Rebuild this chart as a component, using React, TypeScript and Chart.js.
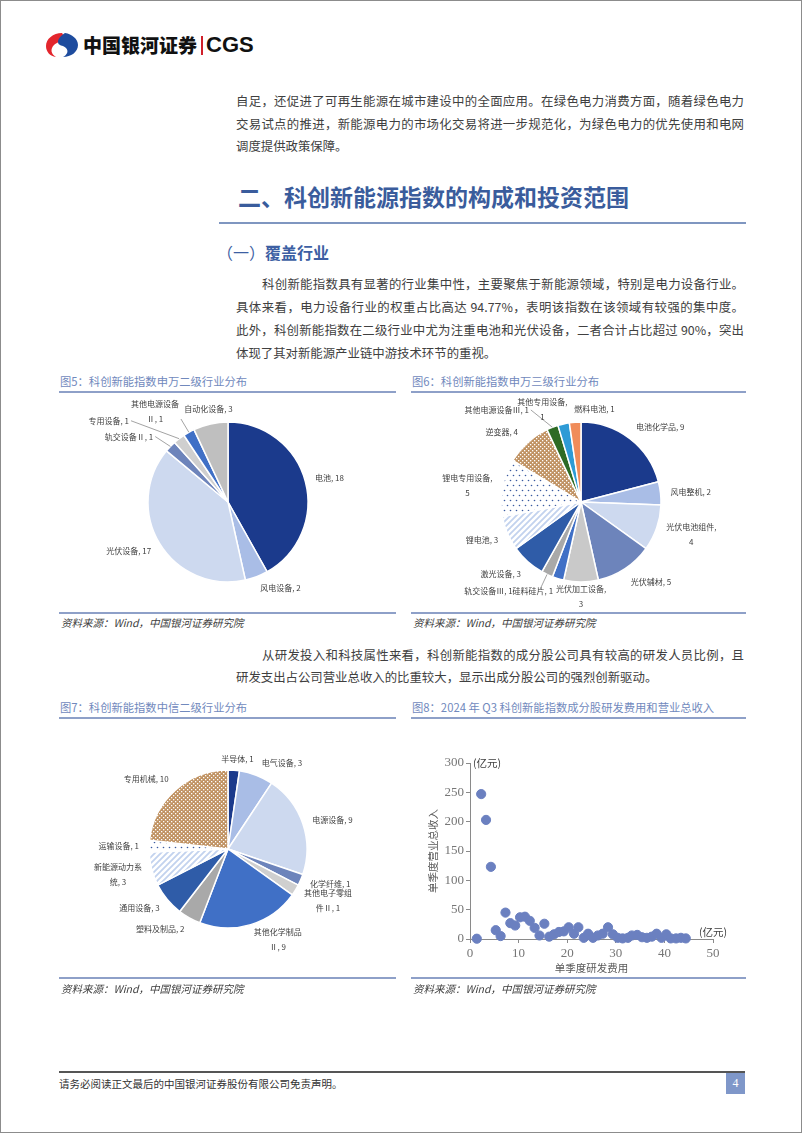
import React, { useEffect, useRef } from 'react';
import { Chart, registerables } from 'chart.js';

Chart.register(...registerables);

const CJK = '"Noto Sans CJK SC", "Noto Sans", sans-serif';
const SERIF = '"Liberation Serif", "DejaVu Serif", serif';
Chart.defaults.font.family = CJK;

// ---------------- DATA ----------------
const sw2Categories = ['电池', '风电设备', '光伏设备', '轨交设备Ⅱ', '专用设备', '其他电源设备Ⅱ', '自动化设备'];
const sw2Values = [18, 2, 17, 1, 1, 1, 3];

const sw3Categories = ['电池化学品', '风电整机', '光伏电池组件', '光伏辅材', '光伏加工设备', '硅料硅片', '轨交设备Ⅲ', '激光设备', '锂电池', '锂电专用设备', '逆变器', '其他电源设备Ⅲ', '其他专用设备', '燃料电池'];
const sw3Values = [9, 2, 4, 5, 3, 1, 1, 3, 3, 5, 4, 1, 1, 1];

const citicCategories = ['半导体', '电气设备', '电源设备', '化学纤维', '其他电子零组件Ⅱ', '其他化学制品Ⅱ', '塑料及制品', '通用设备', '新能源动力系统', '运输设备', '专用机械'];
const citicValues = [1, 3, 9, 1, 1, 9, 2, 3, 3, 1, 10];

// 单季度研发费用 (亿元) / 单季度营业总收入 (亿元)
const rdExpense = [1.4, 2.3, 3.3, 4.3, 5.3, 6.3, 7.3, 8.3, 9.3, 10.3, 11.3, 12.3, 13.3, 14.3, 15.3, 16.3, 17.3, 18.3, 19.3, 20.3, 21.4, 22.3, 23.4, 24.3, 25.3, 26.3, 27.3, 28.4, 29.4, 30.4, 31.4, 32.5, 33.3, 34.4, 35.4, 36.4, 37.4, 38.4, 39.4, 40.4, 41.3, 42.4, 43.4, 44.4];
const revenue = [0.5, 247, 203, 123, 15, 5, 45, 27, 23, 37, 38, 31, 19, 6, 26, 4, 8, 12, 13, 20, 9, 20, 2, 9, 2, 6, 9, 20, 8, 2, 1, 2, 6, 7, 3, 2, 4, 9, 2, 8, 1, 1, 2, 1];
const xAxisMin = 0;
const xAxisMax = 50;
const xAxisStep = 10;
const yAxisMin = 0;
const yAxisMax = 300;
const yAxisStep = 50;

// ---------------- STYLES ----------------
type LabelStyle = { wrap?: number; dx?: number; dy?: number; align?: 'left' | 'right' | 'center'; leader?: 'label' | 'radial' };

const sw2LabelStyles: LabelStyle[] = [
  { dy: -1 },
  { dy: 2 },
  { dy: 2 },
  { dx: -10, dy: -3, leader: 'label' },
  { dx: -44, dy: -10, leader: 'label' },
  { wrap: 6, dx: -5, dy: -12, leader: 'label' },
  { dy: -5 },
];
const sw3LabelStyles: LabelStyle[] = [
  { dy: -4 },
  {},
  { wrap: 7, dy: 3 },
  { dy: 5 },
  { wrap: 7, dy: 4 },
  { align: 'right', dx: -2, dy: 3 },
  { dx: -30, dy: 7, leader: 'radial' },
  { dy: 5 },
  { dy: 3 },
  { wrap: 7 },
  { dx: -3, dy: -3 },
  { dx: -20, dy: -8, leader: 'label' },
  { wrap: 7, dx: -19, dy: -5 },
  { dx: 20, dy: -3 },
];
const citicLabelStyles: LabelStyle[] = [
  { dx: 3, dy: -1 },
  { dx: 2, dy: -3 },
  {},
  {},
  { wrap: 6, dy: 5 },
  { wrap: 6, align: 'left', dy: 5 },
  { dy: 2 },
  { dy: 2 },
  { wrap: 6, dy: 3 },
  {},
  { dy: -4 },
];

const NAVY = '#1b3a8c';
const LIGHT = '#a9bde6';
const PALE = '#cdd9ef';
const SLATE = '#6d84bb';
const LGREY = '#cfcfcf';
const MGREY = '#bfbfbf';
const DGREY = '#a9a9a9';
const BLUE = '#4070c6';
const DBLUE = '#2f5ca8';

function hatchPattern(bg: string, fg: string) {
  const c = document.createElement('canvas');
  c.width = 6; c.height = 6;
  const g = c.getContext('2d')!;
  g.fillStyle = bg; g.fillRect(0, 0, 6, 6);
  g.strokeStyle = fg; g.lineWidth = 1.8;
  g.beginPath();
  g.moveTo(-1, 7); g.lineTo(7, -1);
  g.moveTo(-4, 4); g.lineTo(4, -4);
  g.moveTo(2, 10); g.lineTo(10, 2);
  g.stroke();
  return g.createPattern(c, 'repeat')!;
}
function dotPattern(bg: string, fg: string) {
  const c = document.createElement('canvas');
  c.width = 6; c.height = 10;
  const g = c.getContext('2d')!;
  g.fillStyle = bg; g.fillRect(0, 0, 6, 10);
  g.fillStyle = fg;
  g.beginPath(); g.arc(1.5, 1.5, 0.8, 0, Math.PI * 2); g.fill();
  g.beginPath(); g.arc(4.5, 6.5, 0.8, 0, Math.PI * 2); g.fill();
  return g.createPattern(c, 'repeat')!;
}
function tanPattern(bg: string, fg: string) {
  const c = document.createElement('canvas');
  c.width = 4; c.height = 4;
  const g = c.getContext('2d')!;
  g.fillStyle = bg; g.fillRect(0, 0, 4, 4);
  g.fillStyle = fg;
  g.fillRect(0, 0, 1.3, 1.3);
  g.fillRect(2, 2, 1.3, 1.3);
  return g.createPattern(c, 'repeat')!;
}

function makeLabelPlugin(categories: string[], values: number[], styles: LabelStyle[]) {
  return {
    id: 'pieLabels',
    afterDatasetsDraw(chart: any) {
      const ctx = chart.ctx as CanvasRenderingContext2D;
      const meta = chart.getDatasetMeta(0);
      ctx.save();
      ctx.font = `8px ${CJK}`;
      ctx.fillStyle = '#404040';
      ctx.strokeStyle = '#8c8c8c';
      ctx.lineWidth = 0.8;
      ctx.textBaseline = 'middle';
      meta.data.forEach((arc: any, i: number) => {
        const { x, y, startAngle, endAngle, outerRadius } = arc.getProps(['x', 'y', 'startAngle', 'endAngle', 'outerRadius'], true);
        const mid = (startAngle + endAngle) / 2;
        const c = Math.cos(mid), s = Math.sin(mid);
        const st = styles[i] || {};
        const ax = x + (outerRadius + 10) * c + (st.dx || 0);
        const ay = y + (outerRadius + 10) * s + (st.dy || 0);
        const align = st.align || (Math.abs(c) < 0.25 ? 'center' : c > 0 ? 'left' : 'right');
        const text = `${categories[i]}, ${values[i]}`;
        const lines = st.wrap ? [text.slice(0, st.wrap).trim(), text.slice(st.wrap).trim()] : [text];
        const bw = Math.max(...lines.map((l) => ctx.measureText(l).width));
        const left = align === 'left' ? ax : align === 'right' ? ax - bw : ax - bw / 2;
        const lh = 15;
        const h = lh * lines.length;
        ctx.textAlign = 'center';
        lines.forEach((l, k) => ctx.fillText(l, left + bw / 2, ay - h / 2 + lh / 2 + k * lh));
        if (st.leader) {
          const ex = x + outerRadius * c, ey = y + outerRadius * s;
          let sx: number, sy: number;
          if (st.leader === 'radial') {
            sx = x + (outerRadius + 17) * c; sy = y + (outerRadius + 17) * s;
          } else if (align === 'right') {
            sx = left + bw + 2; sy = ay + (lines.length > 1 ? lh / 2 : 0);
          } else if (align === 'left') {
            sx = left - 2; sy = ay;
          } else {
            sx = left + bw / 2; sy = ay + h / 2;
          }
          ctx.beginPath(); ctx.moveTo(sx, sy); ctx.lineTo(ex, ey); ctx.stroke();
        }
      });
      ctx.restore();
    },
  };
}

function PieChart(props: { left: number; top: number; width: number; height: number; radius: number; categories: string[]; values: number[]; colors: () => any[]; styles: LabelStyle[] }) {
  const ref = useRef<HTMLCanvasElement>(null);
  useEffect(() => {
    const chart = new Chart(ref.current!, {
      type: 'pie',
      data: {
        labels: props.categories,
        datasets: [{ data: props.values, backgroundColor: props.colors(), borderColor: '#ffffff', borderWidth: 1.5, radius: props.radius } as any],
      },
      options: {
        animation: false,
        responsive: false,
        events: [],
        layout: { padding: 0 },
        plugins: { legend: { display: false }, tooltip: { enabled: false } },
      },
      plugins: [makeLabelPlugin(props.categories, props.values, props.styles)],
    });
    return () => chart.destroy();
  }, []);
  return (
    <canvas ref={ref} width={props.width} height={props.height}
      style={{ position: 'absolute', left: props.left, top: props.top, width: props.width, height: props.height }} />
  );
}

function ScatterChart() {
  const ref = useRef<HTMLCanvasElement>(null);
  useEffect(() => {
    const axisColor = '#8a8a8a';
    const unitPlugin = {
      id: 'units',
      afterDraw(chart: any) {
        const { ctx, scales } = chart;
        ctx.save();
        ctx.font = `10.5px ${CJK}`;
        ctx.fillStyle = '#404040';
        ctx.textBaseline = 'middle';
        ctx.textAlign = 'left';
        ctx.fillText('(亿元)', scales.x.getPixelForValue(xAxisMin) + 3, scales.y.getPixelForValue(yAxisMax));
        ctx.fillText('(亿元)', scales.x.getPixelForValue(xAxisMax) - 14, scales.y.getPixelForValue(yAxisMin) - 7);
        ctx.restore();
      },
    };
    const chart = new Chart(ref.current!, {
      type: 'scatter',
      data: {
        datasets: [{
          data: rdExpense.map((x, i) => ({ x, y: revenue[i] })),
          backgroundColor: '#6b80c0',
          borderColor: '#6b80c0',
          pointRadius: 4.6,
          pointHoverRadius: 4.6,
          clip: false,
        } as any],
      },
      options: {
        animation: false,
        responsive: false,
        events: [],
        layout: { padding: { left: 0, top: 22, right: 38, bottom: 0 } },
        plugins: { legend: { display: false }, tooltip: { enabled: false } },
        scales: {
          x: {
            type: 'linear', min: xAxisMin, max: xAxisMax,
            ticks: { stepSize: xAxisStep, color: '#767676', padding: 3, font: { family: SERIF, size: 13 } },
            grid: { display: true, drawOnChartArea: false, drawTicks: true, tickLength: 4, color: axisColor },
            border: { display: true, color: axisColor, width: 1 },
            title: { display: true, text: '单季度研发费用', color: '#595959', font: { family: CJK, size: 10.5 }, padding: { top: 0, bottom: 7 } },
            afterFit: (s: any) => { s.height = 42; },
          },
          y: {
            type: 'linear', min: yAxisMin, max: yAxisMax,
            ticks: { stepSize: yAxisStep, color: '#767676', padding: 2, font: { family: SERIF, size: 13 } },
            grid: { display: true, drawOnChartArea: false, drawTicks: true, tickLength: 4, color: axisColor },
            border: { display: true, color: axisColor, width: 1 },
            title: { display: true, text: '单季度营业总收入', color: '#595959', font: { family: CJK, size: 10.5 }, padding: { top: 26, bottom: 0 } },
            afterFit: (s: any) => { s.width = 69; },
          },
        },
      } as any,
      plugins: [unitPlugin],
    });
    return () => chart.destroy();
  }, []);
  return <canvas ref={ref} width={350} height={240} style={{ position: 'absolute', left: 400, top: 740, width: 350, height: 240 }} />;
}

const TEXT = '#404040';

function Line(p: { x: number; cy: number; w?: number; size?: number; justify?: boolean; color?: string; bold?: boolean; italic?: boolean; family?: string; children: any }) {
  const size = p.size ?? 12.4;
  return (
    <div style={{
      position: 'absolute', left: p.x, top: p.cy - 11, width: p.w ?? 600, height: 22, lineHeight: '22px',
      fontSize: size, fontFamily: p.family ?? CJK, color: p.color ?? TEXT,
      fontWeight: p.bold ? 700 : 400, fontStyle: p.italic ? 'italic' : 'normal',
      textAlign: p.justify ? 'justify' : 'left', textAlignLast: p.justify ? 'justify' : 'auto',
    } as any}>{p.children}</div>
  );
}

function Rule(p: { x1: number; x2: number; y: number; color: string; h?: number }) {
  return <div style={{ position: 'absolute', left: p.x1, top: p.y - (p.h ?? 1.5) / 2, width: p.x2 - p.x1, height: p.h ?? 1.5, background: p.color }} />;
}

const FIG_TITLE = '#7189bd';
const FIG_RULE = '#8ea0c8';

export default function App() {
  useEffect(() => {
    document.body.style.margin = '0';
  }, []);
  const colors5 = () => [NAVY, LIGHT, PALE, SLATE, LGREY, BLUE, MGREY];
  const colors6 = () => [NAVY, LIGHT, PALE, SLATE, '#c9c9c9', BLUE, DGREY, DBLUE,
    hatchPattern('#ffffff', '#c2d2ee'), dotPattern('#ffffff', '#3a5aa0'), tanPattern('#c09262', '#ffffff'),
    '#2e6b25', '#2e9bd6', '#f08c5a'];
  const colors7 = () => [NAVY, LIGHT, PALE, SLATE, LGREY, BLUE, DGREY, DBLUE,
    hatchPattern('#ffffff', '#c2d2ee'), dotPattern('#ffffff', '#3a5aa0'), tanPattern('#c09262', '#ffffff')];

  return (
    <div lang="zh-CN" style={{ position: 'absolute', left: 0, top: 0, width: 802, height: 1133, boxSizing: 'border-box', border: '1px solid #8c8c8c', background: '#fff', overflow: 'hidden' }}>
      {/* Logo */}
      <svg width="34" height="26" viewBox="0 0 34 26" style={{ position: 'absolute', left: 44, top: 31 }}>
        <path d="M17 1 C8 1 1 7 1 14 C1 20 5 24 11 25 C6 22 5 17 9 13 C12 10 17 10 18 7 C19 5 18 2 17 1 Z" fill="#e3262d" />
        <path d="M20 1 C27 2 33 7 33 13 C33 20 26 25 18 25 C22 23 24 19 21 16 C18 13 13 14 13 10 C13 6 17 3 20 1 Z" fill="#1e4c9e" />
      </svg>
      <div style={{ position: 'absolute', left: 82, top: 31, height: 26, lineHeight: '26px', fontSize: 19, fontWeight: 900, fontFamily: CJK, color: '#111' }}>中国银河证券</div>
      <div style={{ position: 'absolute', left: 200, top: 35, width: 1.5, height: 19, background: '#d0202a' }} />
      <div style={{ position: 'absolute', left: 205, top: 31, height: 26, lineHeight: '26px', fontSize: 22, fontWeight: 700, fontFamily: '"Liberation Sans", Arial, sans-serif', color: '#111' }}>CGS</div>

      {/* Paragraph 1 */}
      <Line x={235} cy={100} w={508} justify>自足，还促进了可再生能源在城市建设中的全面应用。在绿色电力消费方面，随着绿色电力</Line>
      <Line x={235} cy={122.5} w={508} justify>交易试点的推进，新能源电力的市场化交易将进一步规范化，为绿色电力的优先使用和电网</Line>
      <Line x={235} cy={145}>调度提供政策保障。</Line>

      {/* Heading */}
      <Line x={237} cy={195} size={23} bold color="#3a5c9c" w={520}>二、科创新能源指数的构成和投资范围</Line>
      <Rule x1={218} x2={745} y={222} color="#7f96c0" h={1.5} />
      <div style={{ position: 'absolute', left: 216, top: 239, height: 24, lineHeight: '24px', fontSize: 16, fontFamily: CJK, color: '#3d5fa3' }}>
        <span style={{ fontWeight: 400 }}>（一）</span><span style={{ fontWeight: 700 }}>覆盖行业</span>
      </div>

      {/* Paragraph 2 */}
      <Line x={261} cy={283} w={482} justify>科创新能指数具有显著的行业集中性，主要聚焦于新能源领域，特别是电力设备行业。</Line>
      <Line x={235} cy={306} w={508} justify>具体来看，电力设备行业的权重占比高达 94.77%，表明该指数在该领域有较强的集中度。</Line>
      <Line x={235} cy={329} w={508} justify>此外，科创新能指数在二级行业中尤为注重电池和光伏设备，二者合计占比超过 90%，突出</Line>
      <Line x={235} cy={352}>体现了其对新能源产业链中游技术环节的重视。</Line>

      {/* Figure 5 / 6 titles */}
      <Line x={59} cy={380} size={11.3} color={FIG_TITLE}>图5：科创新能指数申万二级行业分布</Line>
      <Rule x1={58} x2={395} y={391} color={FIG_RULE} />
      <Line x={411} cy={380} size={11.3} color={FIG_TITLE}>图6：科创新能指数申万三级行业分布</Line>
      <Rule x1={410} x2={745} y={391} color={FIG_RULE} />

      <PieChart left={50} top={393} width={354} height={216} radius={80} categories={sw2Categories} values={sw2Values} colors={colors5} styles={sw2LabelStyles} />
      <PieChart left={403} top={393} width={354} height={216} radius={80} categories={sw3Categories} values={sw3Values} colors={colors6} styles={sw3LabelStyles} />

      <Rule x1={58} x2={395} y={612} color={FIG_RULE} h={1.2} />
      <Rule x1={410} x2={745} y={612} color={FIG_RULE} h={1.2} />
      <Line x={60} cy={622} size={10.5} italic>资料来源：Wind，中国银河证券研究院</Line>
      <Line x={412} cy={622} size={10.5} italic>资料来源：Wind，中国银河证券研究院</Line>

      {/* Paragraph 3 */}
      <Line x={261} cy={654} w={482} justify>从研发投入和科技属性来看，科创新能指数的成分股公司具有较高的研发人员比例，且</Line>
      <Line x={235} cy={676}>研发支出占公司营业总收入的比重较大，显示出成分股公司的强烈创新驱动。</Line>

      {/* Figure 7 / 8 titles */}
      <Line x={59} cy={706} size={11.3} color={FIG_TITLE}>图7：科创新能指数中信二级行业分布</Line>
      <Rule x1={58} x2={395} y={717} color={FIG_RULE} />
      <Line x={411} cy={706} size={11.3} color={FIG_TITLE}>图8：2024 年 Q3 科创新能指数成分股研发费用和营业总收入</Line>
      <Rule x1={410} x2={745} y={717} color={FIG_RULE} />

      <PieChart left={50} top={740} width={354} height={216} radius={79} categories={citicCategories} values={citicValues} colors={colors7} styles={citicLabelStyles} />
      <ScatterChart />

      <Rule x1={58} x2={395} y={977} color={FIG_RULE} h={1.2} />
      <Rule x1={410} x2={745} y={977} color={FIG_RULE} h={1.2} />
      <Line x={60} cy={988} size={10.5} italic>资料来源：Wind，中国银河证券研究院</Line>
      <Line x={412} cy={988} size={10.5} italic>资料来源：Wind，中国银河证券研究院</Line>

      {/* Footer */}
      <Rule x1={58} x2={744} y={1071} color="#555555" h={1.5} />
      <Line x={58} cy={1083} size={10.5} color="#333333">请务必阅读正文最后的中国银河证券股份有限公司免责声明。</Line>
      <div style={{ position: 'absolute', left: 725, top: 1072, width: 19, height: 21, background: '#7f97c9', color: '#fff', fontSize: 12, fontFamily: SERIF, lineHeight: '21px', textAlign: 'center' }}>4</div>
    </div>
  );
}
